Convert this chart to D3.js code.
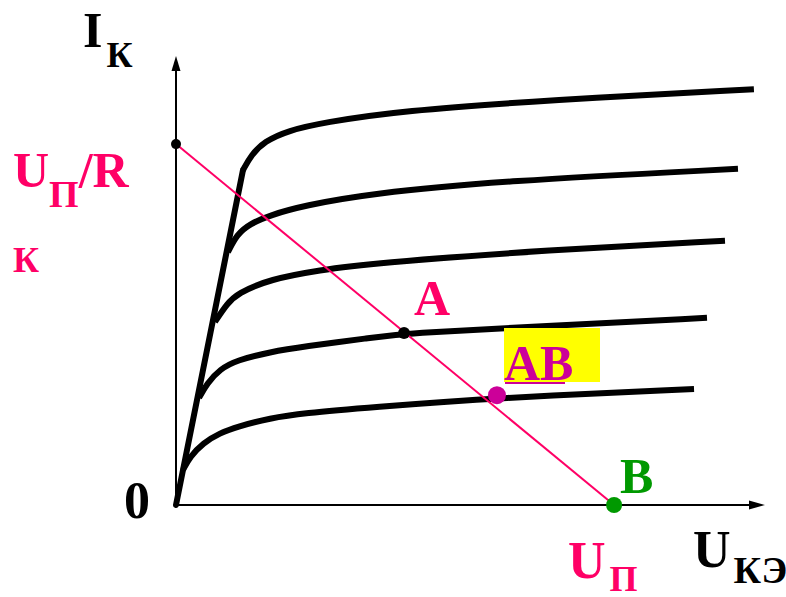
<!DOCTYPE html>
<html><head><meta charset="utf-8">
<script src="https://cdn.jsdelivr.net/npm/d3@7"></script>
<style>html,body{margin:0;padding:0;background:#fff;}svg{display:block;}
text{font-family:"Liberation Serif","Times New Roman","DejaVu Serif",serif;font-weight:bold;}</style>
</head><body>
<script>
// Output characteristics (U_KE in V, I_K in mA)
const curveIb1 = [[2.27,7.44],[2.55,7.78],[3.0,8.08],[3.8,8.32],[5.0,8.50],[7.59,8.76],[12.68,9.00],[19.59,9.24]];
const curveIb2 = [[1.76,5.62],[2.07,6.02],[2.51,6.25],[3.19,6.44],[4.31,6.65],[6.58,6.92],[10.98,7.20],[19.05,7.47]];
const curveIb3 = [[1.32,4.07],[1.73,4.47],[2.07,4.70],[3.19,5.02],[4.88,5.22],[6.58,5.37],[12.68,5.67],[18.61,5.87]];
const curveIb4 = [[0.78,2.38],[1.05,2.70],[1.49,3.02],[2.07,3.22],[3.19,3.40],[4.31,3.52],[6.58,3.71],[7.73,3.82],[12.68,3.98],[18.0,4.16]];
const curveIb5 = [[0.24,0.78],[0.47,1.07],[0.92,1.38],[1.49,1.60],[2.07,1.74],[3.19,1.93],[4.31,2.04],[6.58,2.17],[10.81,2.38],[17.56,2.58]];
const saturationLine = [[0,0],[2.27,7.44]];
const supplyVoltage = 14.85;      // U_П
const shortCurrent = 8.02;        // U_П / R_к
const pointA = [7.73, 3.82];
const pointAB = [10.88, 2.44];
const axisMax = [20, 10.0];

const W = 786, H = 597;
const svg = d3.select("body").append("svg").attr("width", W).attr("height", H);
const x = d3.scaleLinear().domain([0, 20]).range([176, 766]);
const y = d3.scaleLinear().domain([0, 10]).range([505, 55]);

const PINK = "#FF0066", PURPLE = "#CC0099", GREEN = "#009900";

// axes
svg.append("line").attr("x1", x(0)).attr("y1", y(0)).attr("x2", x(0)).attr("y2", y(axisMax[1]) + 10)
  .attr("stroke", "#000").attr("stroke-width", 2);
svg.append("line").attr("x1", x(0)).attr("y1", y(0)).attr("x2", x(axisMax[0]) - 12).attr("y2", y(0))
  .attr("stroke", "#000").attr("stroke-width", 2);
svg.append("path").attr("d", `M${x(0)},${y(axisMax[1])+1} l-4.5,15 l9,0 z`).attr("fill", "#000");
svg.append("path").attr("d", `M${x(axisMax[0])-1},${y(0)} l-16,-4.5 l0,9 z`).attr("fill", "#000");

// characteristics
const line = d3.line().x(d => x(d[0])).y(d => y(d[1])).curve(d3.curveBasis);
[curveIb1, curveIb2, curveIb3, curveIb4, curveIb5].forEach(c => {
  svg.append("path").attr("d", line(c)).attr("fill", "none").attr("stroke", "#000")
    .attr("stroke-width", 6).attr("stroke-linecap", "butt");
});
svg.append("path").attr("d", d3.line().x(d => x(d[0])).y(d => y(d[1]))(saturationLine))
  .attr("fill", "none").attr("stroke", "#000").attr("stroke-width", 6).attr("stroke-linecap", "round");

// load line
svg.append("line").attr("x1", x(0)).attr("y1", y(shortCurrent)).attr("x2", x(supplyVoltage)).attr("y2", y(0))
  .attr("stroke", PINK).attr("stroke-width", 2);

// points
svg.append("circle").attr("cx", x(0)).attr("cy", y(shortCurrent)).attr("r", 5).attr("fill", "#000");
svg.append("circle").attr("cx", x(pointA[0])).attr("cy", y(pointA[1])).attr("r", 6).attr("fill", "#000");
svg.append("circle").attr("cx", x(supplyVoltage)).attr("cy", y(0)).attr("r", 8).attr("fill", GREEN);
svg.append("circle").attr("cx", x(pointAB[0])).attr("cy", y(pointAB[1])).attr("r", 9).attr("fill", PURPLE);

// labels
function label(px, py, parts, color) {
  const t = svg.append("text").attr("x", px).attr("y", py).attr("fill", color);
  parts.forEach(p => {
    const ts = t.append("tspan").text(p.t).attr("font-size", p.s);
    if (p.dy) ts.attr("dy", p.dy);
    if (p.dx) ts.attr("dx", p.dx);
  });
  return t;
}
label(83, 47, [{t: "I", s: 50}, {t: "К", s: 36, dy: 20, dx: 4}], "#000");
label(13, 187, [{t: "U", s: 50}, {t: "П", s: 38, dy: 20}, {t: "/R", s: 50, dy: -20}], PINK);
label(13, 272, [{t: "К", s: 36}], PINK);
label(124, 518, [{t: "0", s: 52}], "#000");
label(414, 315, [{t: "A", s: 50}], PINK);
svg.append("rect").attr("x", 504).attr("y", 328).attr("width", 96).attr("height", 54).attr("fill", "#FFFF00");
label(504, 380, [{t: "AB", s: 50}], PURPLE);
svg.append("line").attr("x1", 505).attr("x2", 565).attr("y1", 383).attr("y2", 383).attr("stroke", PURPLE).attr("stroke-width", 2);
label(620, 493, [{t: "B", s: 50}], GREEN);
label(568, 578, [{t: "U", s: 52}, {t: "П", s: 36, dy: 13, dx: 4}], PINK);
label(693, 567, [{t: "U", s: 52}, {t: "КЭ", s: 38, dy: 16, dx: 3}], "#000");
</script>
</body></html>
